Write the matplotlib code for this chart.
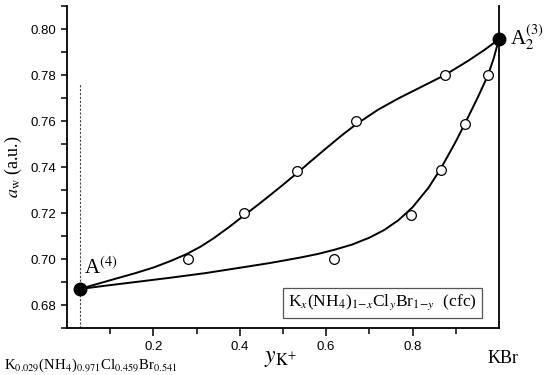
import matplotlib
matplotlib.use("Agg")
import matplotlib.pyplot as plt

# end points of the two branches (filled circles)
end_x = [0.029, 1.0]
end_y = [0.687, 0.7955]

# measured points (open circles)
upper_x = [0.281, 0.410, 0.533, 0.668, 0.875]
upper_y = [0.700, 0.720, 0.7385, 0.760, 0.780]
lower_x = [0.618, 0.797, 0.866, 0.921, 0.975]
lower_y = [0.700, 0.7192, 0.7387, 0.7586, 0.780]

# traced fitted curves
ucurve_x = [0.029, 0.109, 0.160, 0.201, 0.240, 0.277, 0.310, 0.339, 0.375, 0.408, 0.440, 0.469,
            0.500, 0.534, 0.565, 0.599, 0.635, 0.668, 0.720, 0.768, 0.820, 0.875, 0.929, 0.965, 1.0]
ucurve_y = [0.687, 0.6913, 0.6940, 0.6964, 0.6992, 0.7022, 0.7055, 0.7090, 0.7139, 0.7187, 0.7233, 0.7276,
            0.7323, 0.7376, 0.7426, 0.7480, 0.7536, 0.7584, 0.7649, 0.7699, 0.7748, 0.7800, 0.7862, 0.7907, 0.7955]
lcurve_x = [0.029, 0.100, 0.170, 0.239, 0.320, 0.392, 0.470, 0.538, 0.580, 0.618, 0.660, 0.700, 0.735,
            0.768, 0.800, 0.837, 0.866, 0.898, 0.921, 0.952, 0.975, 0.988, 1.0]
lcurve_y = [0.687, 0.6887, 0.6903, 0.6919, 0.6939, 0.6960, 0.6983, 0.7006, 0.7022, 0.7040, 0.7063, 0.7093, 0.7127,
            0.7170, 0.7225, 0.7310, 0.7395, 0.7503, 0.7587, 0.7706, 0.7800, 0.7872, 0.7955]

x_major = [0.2, 0.4, 0.6, 0.8]
x_minor = [0.1, 0.3, 0.5, 0.7, 0.9]
y_major = [0.68, 0.70, 0.72, 0.74, 0.76, 0.78, 0.80]
y_minor = [0.67, 0.69, 0.71, 0.73, 0.75, 0.77, 0.79, 0.81]

plt.rcParams["mathtext.fontset"] = "stix"
plt.rcParams["font.family"] = "Liberation Sans"
SERIF = "Liberation Serif"

fig = plt.figure(figsize=(5.5, 3.75), dpi=100)
ax = fig.add_axes([0.122, 0.125, 0.785, 0.859])

ax.plot(ucurve_x, ucurve_y, color="black", lw=1.4, zorder=2, solid_joinstyle="round")
ax.plot(lcurve_x, lcurve_y, color="black", lw=1.4, zorder=2, solid_joinstyle="round")
ax.plot(upper_x, upper_y, "o", ms=7, mfc="white", mec="black", mew=0.9, zorder=3)
ax.plot(lower_x, lower_y, "o", ms=7, mfc="white", mec="black", mew=0.9, zorder=3)
ax.plot(end_x, end_y, "o", ms=9, color="black", zorder=4, clip_on=False)
ax.plot([end_x[0], end_x[0]], [0.67, 0.776], ls=(0, (2, 1.5)), color="#444444", lw=0.8, zorder=1)

ax.set_xlim(0, 1.0)
ax.set_ylim(0.67, 0.81)
ax.spines["top"].set_visible(False)
for s in ("left", "bottom", "right"):
    ax.spines[s].set_linewidth(1.3)
ax.set_xticks(x_major)
ax.set_xticks(x_minor, minor=True)
ax.set_xticklabels(["%.1f" % v for v in x_major])
ax.set_yticks(y_major)
ax.set_yticks(y_minor, minor=True)
ax.set_yticklabels(["%.2f" % v for v in y_major])
ax.tick_params(axis="both", which="both", direction="out", labelsize=9.5, width=1.1)
ax.tick_params(axis="x", which="major", length=6)
ax.tick_params(axis="x", which="minor", length=4)
ax.tick_params(axis="y", which="both", length=4)

ax.set_ylabel(r"$a_{\rm w}$ (a.u.)", fontsize=13, family=SERIF)
ax.yaxis.set_label_coords(-0.1, 0.5)
fig.text(0.51, 0.045, r"$y_{\rm K^{+}}$", fontsize=17, ha="center", va="center")
fig.text(0.007, 0.027, r"K$_{0.029}$(NH$_4$)$_{0.971}$Cl$_{0.459}$Br$_{0.541}$",
         fontsize=10.6, family=SERIF, ha="left", va="center")
fig.text(0.887, 0.045, "KBr", fontsize=13, family=SERIF, ha="left", va="center")

ax.text(0.04, 0.6912, r"A$^{(4)}$", fontsize=15, family=SERIF, ha="left", va="bottom")
fig.text(0.928, 0.9, r"A$_2^{(3)}$", fontsize=15, family=SERIF, ha="left", va="center")

ax.text(0.730, 0.6811, r"K$_x$(NH$_4$)$_{1\!-\!x}$Cl$_y$Br$_{1\!-\!y}$  (cfc)", fontsize=12.5, family=SERIF,
        ha="center", va="center",
        bbox=dict(boxstyle="square,pad=0.3", facecolor="white", edgecolor="#555555", lw=0.9))

fig.savefig("out.png", dpi=100)
